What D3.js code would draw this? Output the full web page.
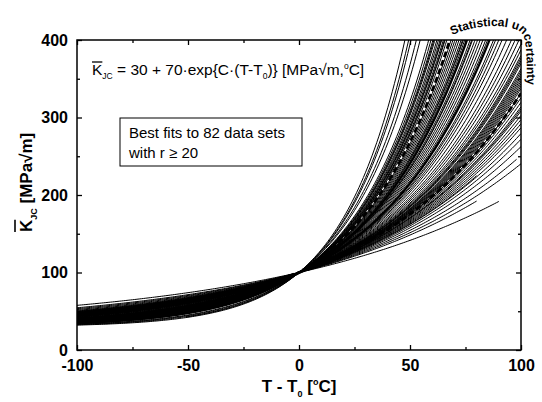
<!DOCTYPE html>
<html>
<head>
<meta charset="utf-8">
<script src="https://d3js.org/d3.v7.min.js"></script>
<style>
  html, body { margin: 0; padding: 0; background: #fff; }
  svg { display: block; font-family: Arial, "Liberation Sans", sans-serif; }
</style>
</head>
<body>
<svg id="chart" width="542" height="402"></svg>
<script>
// K = 30 + 70*exp(C*(T-T0)), C given in 1e-3 per degC
// fits that cover the full -100..100 window
const fullRangeC = [
  34.9, 33.0, 31.5, 30.5, 28.5, 28.0, 27.6, 27.4, 27.2, 26.8,
  26.5, 26.2, 26.0, 25.9, 25.6, 25.4, 25.3, 25.0, 24.3, 24.0,
  23.7, 23.4, 23.1, 22.8, 22.6, 22.5, 22.3, 22.1, 21.6, 21.4,
  21.3, 21.0, 20.7, 20.4, 20.1, 19.8, 19.6, 19.0, 18.8, 18.5,
  18.2, 17.8, 17.4, 17.1, 16.8,
  16.5, 16.3, 16.1, 16.0, 15.9, 15.8, 15.6, 15.5, 15.4, 15.3,
  15.2, 15.1, 15.0, 14.9, 14.8, 14.6, 14.4, 14.2, 14.0, 13.9,
  13.8, 13.6, 13.4, 13.2, 13.0, 12.7, 12.4, 12.0, 11.0
];
// fits drawn heavier in the figure
const thickC = [19.4, 22.0];
// fits that only cover part of the temperature window
const partialC    = [33.7, 12.8, 9.3, 10.5, 14.6, 11.5];
const partialFrom = [-50, -100, -100, -100, -100, -100];
const partialTo   = [100,   80,   90,   80,   95,   98];
// statistical uncertainty bounds (dashed)
const boundC = [24.5, 14.6];

const xTicks = [-100, -50, 0, 50, 100];
const xMinor = [-75, -25, 25, 75];
const yTicks = [0, 100, 200, 300, 400];
const yMinor = [50, 150, 250, 350];

const margin = { left: 77, right: 21, top: 40, bottom: 52 };
const width = 542, height = 402;

const svg = d3.select('#chart');
const x = d3.scaleLinear().domain([-100, 100]).range([margin.left, width - margin.right]);
const y = d3.scaleLinear().domain([0, 400]).range([height - margin.bottom, margin.top]);

const kjc = (c, t) => 30 + 70 * Math.exp(c / 1000 * t);

svg.append('clipPath').attr('id', 'plotClip')
  .append('rect')
  .attr('x', x(-100)).attr('y', y(400))
  .attr('width', x(100) - x(-100)).attr('height', y(0) - y(400));

const line = d3.line().x(d => x(d[0])).y(d => y(d[1]));
const curve = (c, from, to) => d3.range(from, to + 0.01, 1).map(t => [t, kjc(c, t)]);

const plot = svg.append('g').attr('clip-path', 'url(#plotClip)');

plot.selectAll('.fit')
  .data(fullRangeC)
  .enter().append('path')
  .attr('class', 'fit')
  .attr('d', c => line(curve(c, -100, 100)))
  .attr('fill', 'none').attr('stroke', '#000').attr('stroke-width', 1);

plot.selectAll('.fitPart')
  .data(partialC.map((c, i) => ({ c, from: partialFrom[i], to: partialTo[i] })))
  .enter().append('path')
  .attr('class', 'fitPart')
  .attr('d', d => line(curve(d.c, d.from, d.to)))
  .attr('fill', 'none').attr('stroke', '#000').attr('stroke-width', 1);

plot.selectAll('.fitThick')
  .data(thickC)
  .enter().append('path')
  .attr('class', 'fitThick')
  .attr('d', c => line(curve(c, -100, 100)))
  .attr('fill', 'none').attr('stroke', '#000').attr('stroke-width', 2.2);

plot.selectAll('.bound')
  .data(boundC)
  .enter().append('path')
  .attr('class', 'bound')
  .attr('d', c => line(curve(c, -100, 100)))
  .attr('fill', 'none').attr('stroke', '#000').attr('stroke-width', 2.8)
  .attr('stroke-dasharray', '6,3');

// frame + inward ticks on all four sides
const axisStyle = g => {
  g.select('.domain').remove();
  g.selectAll('.tick line').attr('stroke', '#000').attr('stroke-width', 1.3);
};
const tickFont = g => g.selectAll('text')
  .attr('font-size', 16).attr('font-weight', 'bold').attr('fill', '#000');
const plain = d => String(d);

svg.append('g').attr('transform', `translate(0,${y(0)})`)
  .call(d3.axisBottom(x).tickValues(xTicks).tickFormat(plain).tickSizeInner(-5).tickSizeOuter(0).tickPadding(10))
  .call(axisStyle).call(tickFont)
  .attr('font-family', null);
svg.append('g').attr('transform', `translate(0,${y(0)})`)
  .call(d3.axisBottom(x).tickValues(xMinor).tickSizeInner(-3).tickSizeOuter(0).tickFormat(''))
  .call(axisStyle);
svg.append('g').attr('transform', `translate(0,${y(400)})`)
  .call(d3.axisTop(x).tickValues(xTicks).tickSizeInner(-5).tickSizeOuter(0).tickFormat(''))
  .call(axisStyle);
svg.append('g').attr('transform', `translate(0,${y(400)})`)
  .call(d3.axisTop(x).tickValues(xMinor).tickSizeInner(-3).tickSizeOuter(0).tickFormat(''))
  .call(axisStyle);

svg.append('g').attr('transform', `translate(${x(-100)},0)`)
  .call(d3.axisLeft(y).tickValues(yTicks).tickFormat(plain).tickSizeInner(-5).tickSizeOuter(0).tickPadding(9))
  .call(axisStyle).call(tickFont)
  .attr('font-family', null);
svg.append('g').attr('transform', `translate(${x(-100)},0)`)
  .call(d3.axisLeft(y).tickValues(yMinor).tickSizeInner(-3).tickSizeOuter(0).tickFormat(''))
  .call(axisStyle);
svg.append('g').attr('transform', `translate(${x(100)},0)`)
  .call(d3.axisRight(y).tickValues(yTicks).tickSizeInner(-5).tickSizeOuter(0).tickFormat(''))
  .call(axisStyle);
svg.append('g').attr('transform', `translate(${x(100)},0)`)
  .call(d3.axisRight(y).tickValues(yMinor).tickSizeInner(-3).tickSizeOuter(0).tickFormat(''))
  .call(axisStyle);

svg.append('rect')
  .attr('x', x(-100)).attr('y', y(400))
  .attr('width', x(100) - x(-100)).attr('height', y(0) - y(400))
  .attr('fill', 'none').attr('stroke', '#000').attr('stroke-width', 1.5);

// overline helper for the K-bar symbol
function overlineFirstChar(textSel, dy) {
  const node = textSel.node();
  const start = node.getStartPositionOfChar(0);
  const end = node.getEndPositionOfChar(0);
  const ext = node.getExtentOfChar(0);
  return { x1: start.x, x2: end.x, y: ext.y + dy };
}

// formula
const formula = svg.append('text')
  .attr('x', 92).attr('y', 75)
  .attr('font-size', 15.5).attr('fill', '#000');
formula.append('tspan').text('K');
formula.append('tspan').attr('font-size', 8.5).attr('dy', 4).text('JC');
formula.append('tspan').attr('dy', -4).text(' = 30 + 70\u00b7exp{C\u00b7(T-T');
formula.append('tspan').attr('font-size', 8.5).attr('dy', 4).text('0');
formula.append('tspan').attr('dy', -4).text(')} [MPa\u221am,');
formula.append('tspan').attr('font-size', 8.5).attr('dy', -6).text('o');
formula.append('tspan').attr('dy', 6).text('C]');
{
  const o = overlineFirstChar(formula, 1);
  svg.append('line').attr('x1', o.x1).attr('x2', o.x2).attr('y1', o.y).attr('y2', o.y)
    .attr('stroke', '#000').attr('stroke-width', 1.3);
}

// annotation box
svg.append('rect')
  .attr('x', 120).attr('y', 118).attr('width', 182).attr('height', 48)
  .attr('fill', '#fff').attr('stroke', '#000').attr('stroke-width', 1);
svg.append('text').attr('x', 129).attr('y', 138).attr('font-size', 15).text('Best fits to 82 data sets');
svg.append('text').attr('x', 129).attr('y', 158).attr('font-size', 15).text('with r \u2265 20');

// axis titles
const xTitle = svg.append('text')
  .attr('x', x(0)).attr('y', 392)
  .attr('text-anchor', 'middle').attr('font-size', 17).attr('font-weight', 'bold');
xTitle.append('tspan').text('T - T');
xTitle.append('tspan').attr('font-size', 9).attr('dy', 5).text('0');
xTitle.append('tspan').attr('dy', -5).text(' [');
xTitle.append('tspan').attr('font-size', 9).attr('dy', -7).text('o');
xTitle.append('tspan').attr('dy', 7).text('C]');

const yTitle = svg.append('text')
  .attr('transform', `translate(32,${y(200) + 37}) rotate(-90)`)
  .attr('font-size', 17).attr('font-weight', 'bold');
yTitle.append('tspan').text('K');
yTitle.append('tspan').attr('font-size', 9).attr('dy', 5).text('JC');
yTitle.append('tspan').attr('dy', -5).text(' [MPa\u221am]');
{
  const o = overlineFirstChar(yTitle, -2);
  // coordinates are in the rotated frame
  svg.append('line')
    .attr('transform', `translate(32,${y(200) + 37}) rotate(-90)`)
    .attr('x1', o.x1).attr('x2', o.x2).attr('y1', o.y).attr('y2', o.y)
    .attr('stroke', '#000').attr('stroke-width', 1.6);
}

// curved label hugging the top-right corner of the frame, outside it
svg.append('path').attr('id', 'uncPath')
  .attr('d', 'M452,35 C474,25 504,23 519,31 C527,36 527,48 527,110')
  .attr('fill', 'none');
svg.append('text')
  .attr('font-size', 12).attr('font-weight', 'bold')
  .append('textPath').attr('href', '#uncPath')
  .text('Statistical uncertainty');
</script>
</body>
</html>
